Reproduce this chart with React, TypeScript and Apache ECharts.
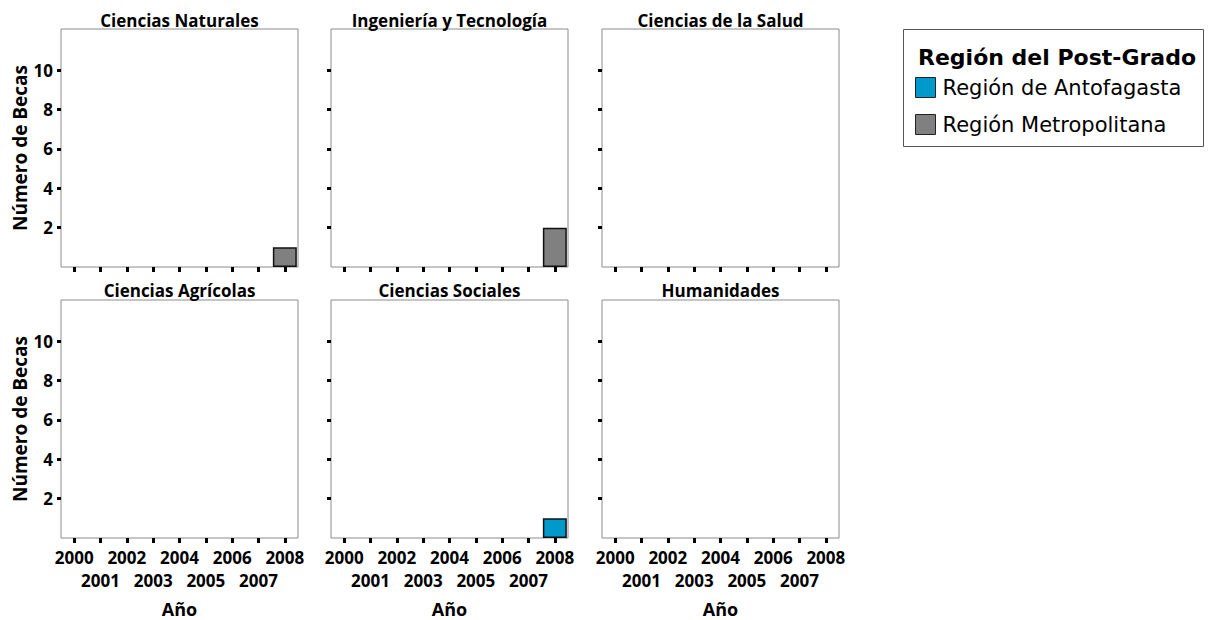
import React, { useEffect, useRef } from "react";
import * as echarts from "echarts";

const years = ["2000", "2001", "2002", "2003", "2004", "2005", "2006", "2007", "2008"];
const panelTitles = [
  "Ciencias Naturales",
  "Ingeniería y Tecnología",
  "Ciencias de la Salud",
  "Ciencias Agrícolas",
  "Ciencias Sociales",
  "Humanidades",
];
const regionNames = ["Región de Antofagasta", "Región Metropolitana"];
const regionColors = ["#0099CC", "#808080"];

// one row per panel, one value per year
const antofagasta = [
  [null, null, null, null, null, null, null, null, null],
  [null, null, null, null, null, null, null, null, null],
  [null, null, null, null, null, null, null, null, null],
  [null, null, null, null, null, null, null, null, null],
  [null, null, null, null, null, null, null, null, 1],
  [null, null, null, null, null, null, null, null, null],
];
const metropolitana = [
  [null, null, null, null, null, null, null, null, 1],
  [null, null, null, null, null, null, null, null, 2],
  [null, null, null, null, null, null, null, null, null],
  [null, null, null, null, null, null, null, null, null],
  [null, null, null, null, null, null, null, null, null],
  [null, null, null, null, null, null, null, null, null],
];
const yTicks = [2, 4, 6, 8, 10];
const yMax = 12.1;
const legendTitle = "Región del Post-Grado";
const yName = "Número de Becas";
const xName = "Año";

const FONT = "'Open Sans', 'Noto Sans', sans-serif";
const LEG_FONT = "'DejaVu Sans', sans-serif";

export default function App() {
  const ref = useRef<HTMLDivElement>(null);

  useEffect(() => {
    if (!ref.current) return;
    const chart = echarts.init(ref.current, undefined, { renderer: "svg" });

    const lefts = [61, 331, 602];
    const tops = [29, 300];
    const W = 237;
    const H = 238;

    const grids: any[] = [];
    const xAxes: any[] = [];
    const yAxes: any[] = [];
    const series: any[] = [];
    const graphics: any[] = [];

    for (let i = 0; i < 6; i++) {
      const col = i % 3;
      const row = Math.floor(i / 3);
      grids.push({
        left: lefts[col],
        top: tops[row],
        width: W,
        height: H,
        show: true,
        borderColor: "#8c8c8c",
        borderWidth: 1,
        backgroundColor: "#fff",
      });
      xAxes.push({
        type: "category",
        gridIndex: i,
        data: years,
        boundaryGap: true,
        axisLine: { show: false },
        axisTick: {
          show: true,
          alignWithLabel: true,
          interval: 0,
          length: 5,
          lineStyle: { color: "#000", width: 3 },
        },
        axisLabel: {
          show: row === 1,
          interval: 0,
          margin: 8,
          color: "#000",
          fontFamily: FONT,
          fontWeight: "bold",
          fontSize: 17,
          lineHeight: 23,
          formatter: (v: string, idx: number) => (idx % 2 === 1 ? "\n" + v : v),
        },
        name: row === 1 ? xName : "",
        nameLocation: "middle",
        nameGap: 62,
        nameTextStyle: { color: "#000", fontFamily: FONT, fontWeight: "bold", fontSize: 18 },
        splitLine: { show: false },
      });
      yAxes.push({
        type: "value",
        gridIndex: i,
        min: 0,
        max: yMax,
        axisLine: { show: false },
        splitLine: { show: false },
        axisTick: {
          show: true,
          length: 4,
          customValues: yTicks,
          lineStyle: { color: "#000", width: 3 },
        },
        axisLabel: {
          show: col === 0,
          customValues: yTicks,
          margin: 8,
          color: "#000",
          fontFamily: FONT,
          fontWeight: "bold",
          fontSize: 17,
        },
        name: col === 0 ? yName : "",
        nameLocation: "middle",
        nameRotate: 90,
        nameGap: 32,
        nameTextStyle: { color: "#000", fontFamily: FONT, fontWeight: "bold", fontSize: 19 },
      });
      const rows = [antofagasta[i], metropolitana[i]];
      rows.forEach((d, k) => {
        series.push({
          type: "bar",
          name: regionNames[k],
          xAxisIndex: i,
          yAxisIndex: i,
          stack: "s" + i,
          data: d,
          barWidth: "91%",
          itemStyle: { color: regionColors[k], borderColor: "#111", borderWidth: 1.5 },
        });
      });
      graphics.push({
        type: "text",
        x: lefts[col] + W / 2,
        y: row === 0 ? 20 : 290,
        style: {
          text: panelTitles[i],
          fill: "#000",
          font: `bold 17px ${FONT}`,
          textAlign: "center",
          textVerticalAlign: "middle",
        },
      });
    }

    graphics.push({
      type: "rect",
      shape: { x: 903.5, y: 29.5, width: 300, height: 117 },
      style: { fill: "#fff", stroke: "#555", lineWidth: 1 },
      z: -1,
    });
    graphics.push({
      type: "text",
      x: 918,
      y: 57,
      style: {
        text: legendTitle,
        fill: "#000",
        font: `bold 22px ${LEG_FONT}`,
        textAlign: "left",
        textVerticalAlign: "middle",
      },
    });

    chart.setOption({
      animation: false,
      backgroundColor: "#fff",
      grid: grids,
      xAxis: xAxes,
      yAxis: yAxes,
      series,
      legend: {
        data: regionNames,
        orient: "vertical",
        left: 915,
        top: 77,
        padding: 0,
        itemWidth: 20,
        itemHeight: 20,
        itemGap: 16,
        icon: "rect",
        selectedMode: false,
        itemStyle: { borderColor: "#222", borderWidth: 1 },
        textStyle: {
          color: "#000",
          fontFamily: LEG_FONT,
          fontSize: 21,
          lineHeight: 20,
          padding: [0, 0, 0, 2],
        },
      },
      graphic: graphics,
    });

    return () => chart.dispose();
  }, []);

  return (
    <div
      ref={ref}
      style={{ position: "fixed", left: 0, top: 0, width: 1212, height: 620, background: "#fff" }}
    />
  );
}
